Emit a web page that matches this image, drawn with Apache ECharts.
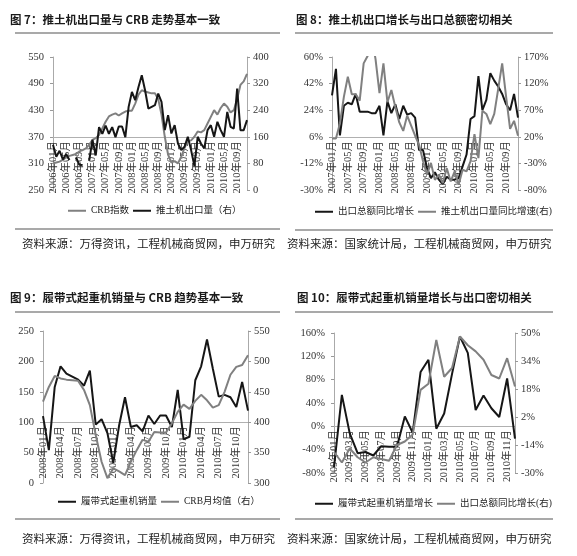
<!DOCTYPE html>
<html>
<head>
<meta charset="utf-8">
<script src="https://cdn.jsdelivr.net/npm/echarts@6/dist/echarts.min.js"></script>
<style>
html, body { margin: 0; padding: 0; background: #fff; }
#main { width: 577px; height: 556px; }
</style>
</head>
<body>
<div id="main"></div>
<script>
// 月份类目
function monthCats(year, month, count) {
    var out = [];
    for (var k = 0; k < count; k++) {
        var y = year + Math.floor((month - 1 + k) / 12);
        var m = (month - 1 + k) % 12 + 1;
        out.push(y + '年' + (m < 10 ? '0' : '') + m + '月');
    }
    return out;
}

// 图7：2006-01 ~ 2010-12
var cats7 = monthCats(2006, 1, 60);
var crb7 = [310, 312, 314, 318, 324, 327, 329, 331, 337, 340, 344, 352,
    363, 367, 374, 389, 404, 416, 420, 423, 418, 423, 427, 429,
    429, 445, 465, 475, 472, 470, 468, 468, 455, 420, 370, 330,
    312, 315, 310, 325, 345, 360, 362, 370, 382, 380, 385, 400,
    415, 430, 420, 435, 445, 438, 425, 430, 455, 487, 495, 512];
var dozer7 = [136, 100, 118, 92, 108, 90, null, 98, 76, 75, null, 88,
    151, 104, 189, 169, 194, 169, 189, 159, 191, 191, 159, 250,
    295, 270, 310, 345, 300, 245, 250, 255, 290, 265, 180, 225,
    170, 195, 140, 120, 130, 160, 120, 72, 160, 140, 125, 180,
    195, 160, 205, 180, 160, 235, 190, 185, 305, 180, 180, 210];
var ticks7L = [250, 310, 370, 430, 490, 550];
var ticks7R = [0, 80, 160, 240, 320, 400];

// 图8：2007-01 ~ 2010-12
var cats8 = monthCats(2007, 1, 48);
var export8 = [34, 52, 7, 27, 29, 28, 35, 23, 23, 23, 22, 22,
    27, 7, 30, 22, 28, 18, 27, 21, 22, 19, -3, -3,
    -15, -22, -18, -23, -26, -21, -23, -23, -22, -14, -6, 18,
    20, 47, 24, 31, 49, 44, 40, 35, 28, 24, 35, 19];
var dozerYoy8 = [17, 17, 45, 95, 133, 100, 100, 88, 158, 172, 210, 166,
    102, 158, 85, 108, 76, 47, 31, 60, 41, 22, 5, -26,
    -51, -29, -61, -51, -67, -39, -64, -45, -70, -42, -45, -26,
    25, -20, 69, 63, 44, 63, 110, 158, 95, 35, 50, 22];
var ticks8L = [-30, -12, 6, 24, 42, 60];
var ticks8R = [-80, -30, 20, 70, 120, 170];

// 图9：2008-01 ~ 2010-12
var cats9 = monthCats(2008, 1, 36);
var crane9 = [110, 54, 158, 192, 180, 175, 170, 160, 185, 96, 105, 82,
    33, 95, 141, 92, 95, 85, 111, 97, 111, 111, 92, 153,
    72, 76, 169, 192, 236, 188, 142, 145, 141, 125, 166, 119];
var crb9 = [434, 458, 476, 472, 470, 469, 468, 453, 428, 379, 335, 308,
    324, 319, 313, 335, 354, 371, 368, 384, 383, 383, 398, 417,
    429, 422, 435, 445, 436, 424, 428, 450, 478, 491, 494, 510];
var ticks9L = [0, 50, 100, 150, 200, 250];
var ticks9R = [300, 350, 400, 450, 500, 550];

// 图10：2009-01 ~ 2010-12
var cats10 = monthCats(2009, 1, 24);
var crane10 = [-70, 54, -12, -46, -44, -50, -34, -35, -35, 17, -11, 93,
    114, -4, 22, 90, 154, 126, 28, 53, 31, 16, 82, -21];
var export10 = [-18, -24, -16, -21, -24, -21, -22, -23, -14, -12, -8, 17.5,
    21, 46, 25, 30, 48, 43, 39.5, 34.7, 26, 24, 35.6, 19.4];
var ticks10L = [-80, -40, 0, 40, 80, 120, 160];
var ticks10R = [-30, -14, 2, 18, 34, 50];

var BLACK = '#161616';
var GRAY = '#808080';
var SERIF = '"Liberation Serif", "Noto Sans CJK SC", serif';
var SANS = '"Noto Sans CJK SC", sans-serif';

function pct(v) { return v + '%'; }

function valAxis(grid, pos, min, max, ticks, fmt) {
    return {
        type: 'value', gridIndex: grid, position: pos, min: min, max: max,
        axisLine: { show: true, lineStyle: { color: '#aaa', width: 1 } },
        axisTick: { show: true, length: 3, customValues: ticks, lineStyle: { color: '#999' } },
        axisLabel: {
            customValues: ticks, formatter: fmt, color: '#333',
            fontFamily: SERIF, fontSize: 10.5, margin: pos === 'left' ? 9 : 6
        },
        splitLine: { show: false }
    };
}

function catAxis(grid, data, interval, offset) {
    return {
        type: 'category', gridIndex: grid, data: data, boundaryGap: false,
        position: 'bottom', offset: offset,
        axisLine: { onZero: false, lineStyle: { color: '#b0b0b0', width: 1 } },
        axisTick: { show: false },
        axisLabel: {
            interval: interval, rotate: 90, fontSize: 10.5, fontFamily: SERIF,
            color: '#333', margin: 4
        }
    };
}

function lineSeries(name, x, y, data, color) {
    return {
        type: 'line', name: name, xAxisIndex: x, yAxisIndex: y, data: data,
        symbol: 'none', clip: true,
        lineStyle: { color: color, width: 2 }, itemStyle: { color: color }
    };
}

function legendAt(left, top, names) {
    return {
        left: left, top: top, width: 280, data: names, icon: 'rect',
        itemWidth: 18, itemHeight: 2, itemGap: 4, padding: 0,
        textStyle: { fontFamily: SERIF, fontSize: 9.5, color: '#222' }
    };
}

function titleAt(left, top, text) {
    return {
        text: text, left: left, top: top, padding: 0,
        textStyle: { fontFamily: SANS, fontSize: 11.5, fontWeight: 'bold', color: '#1a1a1a' }
    };
}

function rule(x1, x2, y) {
    return { type: 'line', shape: { x1: x1, y1: y, x2: x2, y2: y }, style: { stroke: '#555', lineWidth: 1.2 } };
}

function source(left, top, text) {
    return {
        type: 'text', left: left, top: top,
        style: { text: text, fontFamily: SANS, fontSize: 11.5, fill: '#222' }
    };
}

var chart = echarts.init(document.getElementById('main'));

chart.setOption({
    animation: false,
    backgroundColor: '#fff',
    title: [
        titleAt(10, 14, '图 7：推土机出口量与 CRB 走势基本一致'),
        titleAt(296, 14, '图 8：推土机出口增长与出口总额密切相关'),
        titleAt(10, 292, '图 9：履带式起重机销量与 CRB 趋势基本一致'),
        titleAt(297, 292, '图 10：履带式起重机销量增长与出口密切相关')
    ],
    grid: [
        { left: 53, top: 57, width: 194, height: 133 },
        { left: 332, top: 57, width: 186, height: 133 },
        { left: 43, top: 331, width: 205, height: 152 },
        { left: 334, top: 333, width: 181, height: 140 }
    ],
    xAxis: [
        catAxis(0, cats7, 3, -53),
        catAxis(1, cats8, 3, -53),
        catAxis(2, cats9, 2, -61),
        catAxis(3, cats10, 1, -47)
    ],
    yAxis: [
        valAxis(0, 'left', 250, 550, ticks7L),
        valAxis(0, 'right', 0, 400, ticks7R),
        valAxis(1, 'left', -30, 60, ticks8L, pct),
        valAxis(1, 'right', -80, 170, ticks8R, pct),
        valAxis(2, 'left', 0, 250, ticks9L),
        valAxis(2, 'right', 300, 550, ticks9R),
        valAxis(3, 'left', -80, 160, ticks10L, pct),
        valAxis(3, 'right', -30, 50, ticks10R, pct)
    ],
    legend: [
        legendAt(68, 206, ['CRB指数', '推土机出口量（右）']),
        legendAt(315, 207, ['出口总额同比增长', '推土机出口量同比增速(右)']),
        legendAt(58, 497, ['履带式起重机销量', 'CRB月均值（右）']),
        legendAt(315, 499, ['履带式起重机销量增长', '出口总额同比增长(右)'])
    ],
    series: [
        lineSeries('CRB指数', 0, 0, crb7, GRAY),
        lineSeries('推土机出口量（右）', 0, 1, dozer7, BLACK),
        lineSeries('出口总额同比增长', 1, 2, export8, BLACK),
        lineSeries('推土机出口量同比增速(右)', 1, 3, dozerYoy8, GRAY),
        lineSeries('履带式起重机销量', 2, 4, crane9, BLACK),
        lineSeries('CRB月均值（右）', 2, 5, crb9, GRAY),
        lineSeries('履带式起重机销量增长', 3, 6, crane10, BLACK),
        lineSeries('出口总额同比增长(右)', 3, 7, export10, GRAY)
    ],
    graphic: [
        rule(15, 280, 33), rule(295, 553, 33),
        rule(15, 280, 229), rule(295, 553, 230),
        rule(15, 280, 312), rule(295, 553, 312),
        rule(15, 280, 519), rule(295, 553, 519),
        source(22, 238, '资料来源：万得资讯，工程机械商贸网，申万研究'),
        source(287, 238, '资料来源：国家统计局，工程机械商贸网，申万研究'),
        source(22, 533, '资料来源：万得资讯，工程机械商贸网，申万研究'),
        source(287, 533, '资料来源：国家统计局，工程机械商贸网，申万研究')
    ]
});
</script>
</body>
</html>
